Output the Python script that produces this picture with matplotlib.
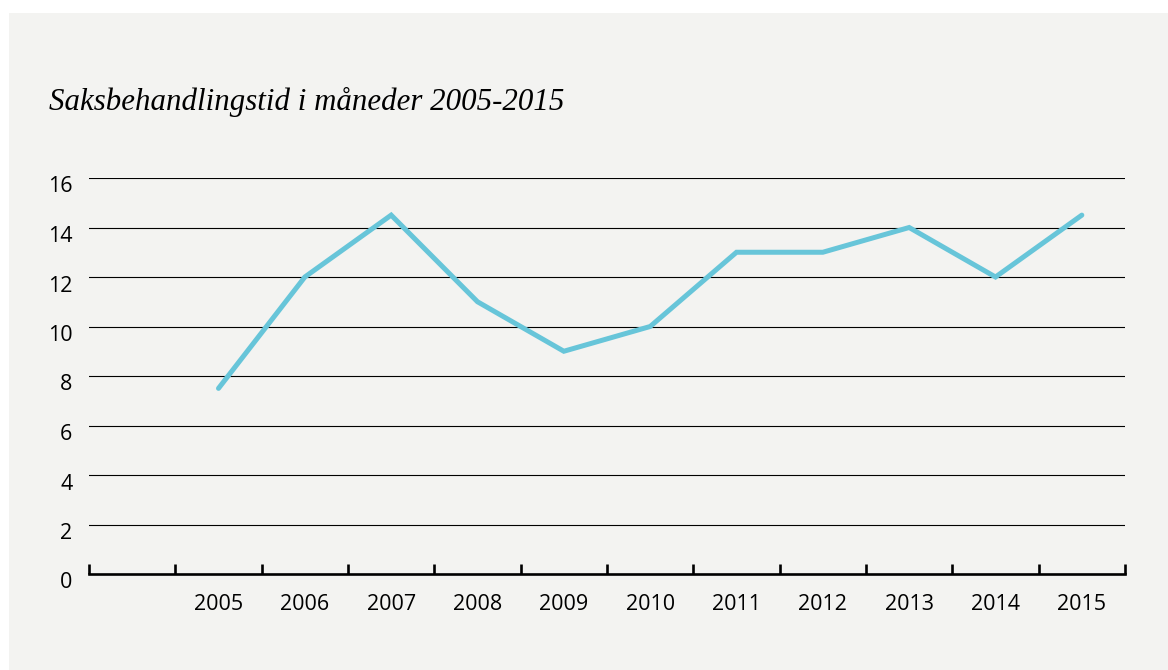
import matplotlib
matplotlib.use("Agg")
import matplotlib.pyplot as plt
from matplotlib.patches import Rectangle
from matplotlib.transforms import ScaledTranslation

# Data
years = ["", "2005", "2006", "2007", "2008", "2009", "2010", "2011", "2012", "2013", "2014", "2015"]
values = [7.5, 12, 14.5, 11, 9, 10, 13, 13, 14, 12, 14.5]
y_ticks = [0, 2, 4, 6, 8, 10, 12, 14, 16]
title = "Saksbehandlingstid i måneder 2005-2015"

W, H = 1168, 670
fig = plt.figure(figsize=(W / 100, H / 100), dpi=100)
fig.patch.set_facecolor("white")
bg = "#f3f3f1"
fig.patches.append(Rectangle((9 / W, -0.01), 1.01 - 9 / W, (H - 13) / H + 0.01,
                             transform=fig.transFigure, facecolor=bg,
                             edgecolor="none", zorder=-10))

ax = fig.add_axes([89 / W, (H - 574) / H, (1125 - 89) / W, (574 - 178) / H])
ax.set_facecolor("none")

n = len(years)
xs = list(range(1, n))
ax.plot(xs, values, color="#67c5d9", lw=3.6, solid_capstyle="round",
        solid_joinstyle="miter", zorder=3)

ax.set_xlim(-0.5, n - 0.5)
ax.set_ylim(0, 16)

for y in y_ticks[1:]:
    ax.axhline(y, color="black", lw=0.8, zorder=1)

for s in ["top", "right", "left"]:
    ax.spines[s].set_visible(False)
ax.spines["bottom"].set_linewidth(1.9)
ax.spines["bottom"].set_color("black")

# boundaries ticks
ax.set_xticks([i - 0.5 for i in range(n + 1)])
ax.set_xticklabels([""] * (n + 1))
ax.tick_params(axis="x", which="major", direction="in", length=7, width=1.9, color="black")
ax.set_xticks(list(range(n)), minor=True)
ax.set_xticklabels(years, minor=True, fontsize=15.5, family="Open Sans")
ax.tick_params(axis="x", which="minor", length=0, pad=14.5)

ax.set_yticks(y_ticks)
ax.set_yticklabels([str(v) for v in y_ticks], fontsize=15.5, family="Open Sans")
ax.tick_params(axis="y", length=0, pad=12)
off = ScaledTranslation(0, -6.5 / 100, fig.dpi_scale_trans)
for lab in ax.get_yticklabels():
    lab.set_transform(lab.get_transform() + off)

fig.text(49 / W, (H - 110) / H, title, fontsize=22.2, style="italic",
         family="Liberation Serif", ha="left", va="baseline")

fig.savefig("out.png", dpi=100)
